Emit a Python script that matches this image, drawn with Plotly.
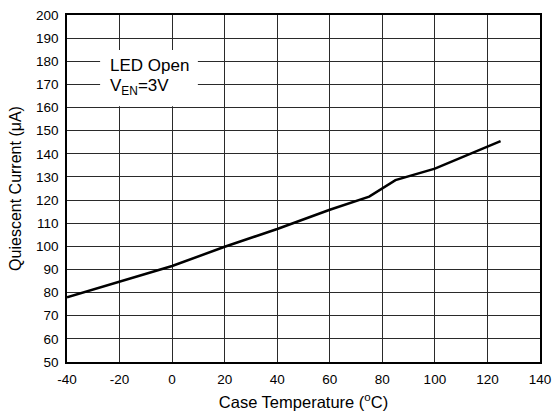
import plotly.graph_objects as go

temp_c = [-40, -20, 0, 20, 40, 60, 75, 85, 100, 125]
current_ua = [78.0, 84.6, 91.5, 99.8, 107.5, 115.8, 121.5, 128.6, 133.6, 145.5]

x_ticks = [-40, -20, 0, 20, 40, 60, 80, 100, 120, 140]
y_ticks = [50, 60, 70, 80, 90, 100, 110, 120, 130, 140, 150, 160, 170, 180, 190, 200]

FONT = "Liberation Sans, Arial, sans-serif"

fig = go.Figure()
fig.add_trace(go.Scatter(x=temp_c, y=current_ua, mode="lines",
                         line=dict(color="black", width=2.5), showlegend=False))

# white box behind the condition text
fig.add_shape(type="rect", xref="x", yref="y", x0=-27.4, x1=9.8, y0=160.6, y1=184.9,
              fillcolor="white", line=dict(width=0), layer="above")
fig.add_annotation(x=-24.3, y=178, xref="x", yref="y", text="LED Open", showarrow=False,
                   xanchor="left", yanchor="middle", font=dict(family=FONT, size=17, color="black"))
fig.add_annotation(x=-24.3, y=169, xref="x", yref="y", text="V<sub>EN</sub>=3V", showarrow=False,
                   xanchor="left", yanchor="middle", font=dict(family=FONT, size=17, color="black"))

fig.update_layout(
    width=552, height=419,
    margin=dict(l=67, r=12, t=15, b=57, autoexpand=False),
    paper_bgcolor="white", plot_bgcolor="white",
    font=dict(family=FONT, color="black"),
)
fig.update_xaxes(range=[-40, 140], tickvals=x_ticks, ticktext=[str(v) for v in x_ticks],
                 showgrid=True, gridcolor="#2a2a2a", gridwidth=1,
                 showline=True, linecolor="black", linewidth=2, mirror=True,
                 ticks="outside", ticklen=4, tickcolor="rgba(0,0,0,0)",
                 tickfont=dict(size=13.5), zeroline=False, automargin=False,
                 ticklabeloverflow="allow",
                 title=dict(text="Case Temperature (<sup>o</sup>C)", font=dict(size=16.5), standoff=10))
fig.update_yaxes(range=[50, 200], tickvals=y_ticks, ticktext=[str(v) for v in y_ticks],
                 showgrid=True, gridcolor="#2a2a2a", gridwidth=1,
                 showline=True, linecolor="black", linewidth=1.5, mirror=True,
                 ticks="outside", ticklen=4, tickcolor="rgba(0,0,0,0)",
                 tickfont=dict(size=13.5), zeroline=False, automargin=False,
                 ticklabeloverflow="allow",
                 title=dict(text="Quiescent Current (μA)", font=dict(size=16), standoff=10))

# remove the default 8px page margin so the 552x419 figure fills the window exactly
fig.write_html("out.html", config={"displayModeBar": False},
               post_script="document.body.style.margin='0';document.body.style.overflow='hidden';")
